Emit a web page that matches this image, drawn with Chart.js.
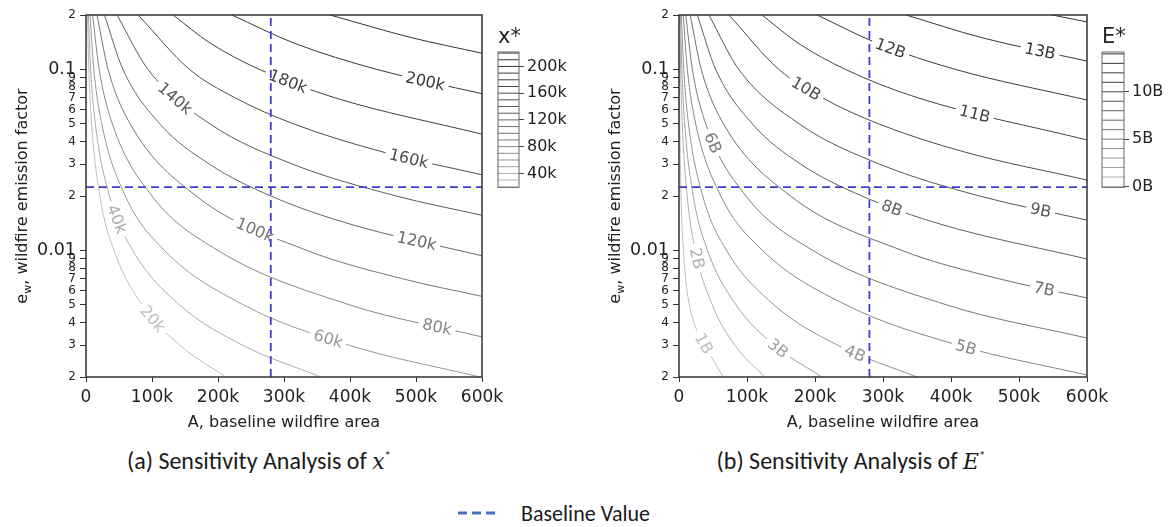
<!DOCTYPE html>
<html>
<head>
<meta charset="utf-8">
<title>Sensitivity analysis contours</title>
<script src="https://cdn.jsdelivr.net/npm/chart.js@4.4.1/dist/chart.umd.min.js"></script>
<style>
  html, body { margin: 0; padding: 0; background: #fff; }
  body { width: 1169px; height: 527px; position: relative; overflow: hidden; }
  canvas { position: absolute; }
  .caption { position: absolute; width: 460px; text-align: center; font-family: Carlito, Lato, "Liberation Sans Narrow", sans-serif; font-size: 24px; color: #1a1a1a; white-space: nowrap; }
  .caption i { font-family: "DejaVu Serif", "Liberation Serif", serif; font-size: 22px; }
  .caption sup { font-size: 13px; }
  #legend { position: absolute; left: 458px; top: 500px; height: 26px; display: flex; align-items: center; font-family: Carlito, Lato, "Liberation Sans Narrow", sans-serif; font-size: 22px; color: #1a1a1a; }
</style>
</head>
<body>
<canvas id="chartX" width="520" height="440" style="left:0;top:0"></canvas>
<canvas id="barX" width="100" height="200" style="left:488px;top:0"></canvas>
<canvas id="chartE" width="535" height="440" style="left:590px;top:0"></canvas>
<canvas id="barE" width="77" height="200" style="left:1092px;top:0"></canvas>
<div class="caption" style="left:29px;top:446px">(a) Sensitivity Analysis of <i>x</i><sup>*</sup></div>
<div class="caption" style="left:621px;top:446px">(b) Sensitivity Analysis of <i>E</i><sup>*</sup></div>
<div id="legend"><svg width="38" height="6"><line x1="0" y1="3" x2="38" y2="3" stroke="#4472c4" stroke-width="3" stroke-dasharray="9,5"/></svg><span style="margin-left:25px">Baseline Value</span></div>
<script>
// axis ticks
const xTickValues = [0, 100000, 200000, 300000, 400000, 500000, 600000];
const xTickLabels = ["0", "100k", "200k", "300k", "400k", "500k", "600k"];
const yTickValues = [0.002, 0.003, 0.004, 0.005, 0.006, 0.007, 0.008, 0.009, 0.01,
  0.02, 0.03, 0.04, 0.05, 0.06, 0.07, 0.08, 0.09, 0.1, 0.2];
const yTickLabels = ["2", "3", "4", "5", "6", "7", "8", "9", "0.01",
  "2", "3", "4", "5", "6", "7", "8", "9", "0.1", "2"];
const yMajorTicks = [0.01, 0.1];

// baseline values (blue dashed lines)
const baselineA = 280000;
const baselineEw = 0.0224;

// x* contour lines, points [A, e_w]
const xStarLevels = ["20k", "40k", "60k", "80k", "100k", "120k", "140k", "160k", "180k", "200k", "220k"];
const xStarContours = [
  [[2100, 0.2], [4300, 0.1], [8500, 0.05], [21000, 0.02], [42500, 0.01], [85000, 0.005], [142000, 0.003], [212000, 0.002]],
  [[3600, 0.2], [7100, 0.1], [14200, 0.05], [35600, 0.02], [71000, 0.01], [142000, 0.005], [237000, 0.003], [356000, 0.002]],
  [[6000, 0.2], [11900, 0.1], [23900, 0.05], [59600, 0.02], [119000, 0.01], [239000, 0.005], [398000, 0.003], [597000, 0.002]],
  [[10000, 0.2], [20000, 0.1], [40000, 0.05], [100000, 0.02], [200000, 0.01], [400000, 0.005], [600000, 0.00333]],
  [[16700, 0.2], [33500, 0.1], [67000, 0.05], [167000, 0.02], [335000, 0.01], [478000, 0.007], [600000, 0.00558]],
  [[28000, 0.2], [56000, 0.1], [112000, 0.05], [187000, 0.03], [280000, 0.02], [400000, 0.014], [600000, 0.00935]],
  [[47000, 0.2], [94000, 0.1], [188000, 0.05], [313000, 0.03], [470000, 0.02], [600000, 0.01565]],
  [[79000, 0.2], [157000, 0.1], [225000, 0.07], [315000, 0.05], [450000, 0.035], [600000, 0.0262]],
  [[132000, 0.2], [188000, 0.14], [263000, 0.1], [376000, 0.07], [600000, 0.0439]],
  [[221000, 0.2], [315000, 0.14], [441000, 0.1], [600000, 0.0735]],
  [[370000, 0.2], [493000, 0.15], [600000, 0.123]]
];
// A value where each inline label sits (null = unlabeled)
const xStarLabelAt = [101000, 47000, 367000, 532000, 256000, 501000, 135000, 489000, 306000, 514000, null];

// E* contour lines
const eStarLevels = ["1B", "2B", "3B", "4B", "5B", "6B", "7B", "8B", "9B", "10B", "11B", "12B", "13B", "14B"];
const eStarContours = [
  [[300, 0.2], [600, 0.1], [1200, 0.05], [3000, 0.02], [6500, 0.01], [11800, 0.006], [22000, 0.004], [38000, 0.003], [65000, 0.002]],
  [[1200, 0.2], [2400, 0.1], [4800, 0.05], [12000, 0.02], [24000, 0.01], [49000, 0.005], [82000, 0.003], [126000, 0.002]],
  [[2100, 0.2], [4200, 0.1], [8400, 0.05], [21000, 0.02], [42000, 0.01], [84000, 0.005], [140000, 0.003], [210000, 0.002]],
  [[3500, 0.2], [7000, 0.1], [14000, 0.05], [35000, 0.02], [70000, 0.01], [140000, 0.005], [233000, 0.003], [350000, 0.002]],
  [[6200, 0.2], [12300, 0.1], [24600, 0.05], [61500, 0.02], [123000, 0.01], [246000, 0.005], [410000, 0.003], [600000, 0.00205]],
  [[9900, 0.2], [19700, 0.1], [39400, 0.05], [98500, 0.02], [197000, 0.01], [394000, 0.005], [600000, 0.00328]],
  [[16400, 0.2], [32800, 0.1], [65600, 0.05], [164000, 0.02], [328000, 0.01], [469000, 0.007], [600000, 0.00547]],
  [[27000, 0.2], [54000, 0.1], [108000, 0.05], [179000, 0.03], [269000, 0.02], [384000, 0.014], [600000, 0.00897]],
  [[44000, 0.2], [88000, 0.1], [177000, 0.05], [295000, 0.03], [442000, 0.02], [600000, 0.01473]],
  [[73500, 0.2], [147000, 0.1], [210000, 0.07], [294000, 0.05], [420000, 0.035], [600000, 0.0245]],
  [[122000, 0.2], [175000, 0.14], [245000, 0.1], [350000, 0.07], [600000, 0.0408]],
  [[203000, 0.2], [291000, 0.14], [407000, 0.1], [600000, 0.0678]],
  [[334000, 0.2], [445000, 0.15], [600000, 0.1113]],
  [[549000, 0.2], [600000, 0.183]]
];
const eStarLabelAt = [36800, 26500, 145600, 259000, 422000, 50000, 537000, 313000, 532000, 187000, 435000, 311000, 531000, null];

// colorbars
const xStarBarLines = [20000, 30000, 40000, 50000, 60000, 70000, 80000, 90000, 100000, 110000, 120000,
  130000, 140000, 150000, 160000, 170000, 180000, 190000, 200000, 210000, 220000];
const xStarBarTicks = [40000, 80000, 120000, 160000, 200000];
const xStarBarLabels = ["40k", "80k", "120k", "160k", "200k"];
const eStarBarLines = [0, 1e9, 2e9, 3e9, 4e9, 5e9, 6e9, 7e9, 8e9, 9e9, 10e9, 11e9, 12e9, 13e9, 14e9];
const eStarBarTicks = [0, 5e9, 10e9];
const eStarBarLabels = ["0B", "5B", "10B"];

const FONT = "'DejaVu Sans', Verdana, sans-serif";
const INK = "#222";
const DASH_BLUE = "#3c3cd2";

// light grey for low levels, dark grey for high ones
function greyFor(i, n) {
  const t = n > 1 ? i / (n - 1) : 0;
  const g = Math.round(50 + 140 * Math.pow(1 - t, 1.4));
  return `rgb(${g},${g},${g})`;
}

// position + tangent on the drawn bezier line at pixel x
function locate(pts, px) {
  let k = 0;
  while (k < pts.length - 2 && pts[k + 1].x < px) k++;
  const p = pts[k], q = pts[k + 1];
  const c1x = p.cp2x ?? p.x, c1y = p.cp2y ?? p.y;
  const c2x = q.cp1x ?? q.x, c2y = q.cp1y ?? q.y;
  const bez = (t, a, b, c, d) => { const u = 1 - t; return u * u * u * a + 3 * u * u * t * b + 3 * u * t * t * c + t * t * t * d; };
  const der = (t, a, b, c, d) => { const u = 1 - t; return 3 * u * u * (b - a) + 6 * u * t * (c - b) + 3 * t * t * (d - c); };
  let lo = 0, hi = 1;
  for (let j = 0; j < 40; j++) {
    const m = (lo + hi) / 2;
    if (bez(m, p.x, c1x, c2x, q.x) < px) lo = m; else hi = m;
  }
  const t = (lo + hi) / 2;
  return {
    x: bez(t, p.x, c1x, c2x, q.x),
    y: bez(t, p.y, c1y, c2y, q.y),
    angle: Math.atan2(der(t, p.y, c1y, c2y, q.y), der(t, p.x, c1x, c2x, q.x))
  };
}

// inline contour labels: cut a gap in the line, then write the level
const contourLabels = {
  id: "contourLabels",
  beforeDatasetDraw(chart, args) {
    const ds = chart.data.datasets[args.index];
    if (!ds.labelText || ds.labelA == null) return;
    const meta = args.meta;
    if (meta.dataset.updateControlPoints) meta.dataset.updateControlPoints(chart.chartArea, "x");
    const pos = locate(meta.data, chart.scales.x.getPixelForValue(ds.labelA));
    const ctx = chart.ctx;
    ctx.save();
    ctx.font = `16px ${FONT}`;
    const w = ctx.measureText(ds.labelText).width + 8, h = 14;
    const cos = Math.cos(pos.angle), sin = Math.sin(pos.angle);
    const c = [[-w / 2, -h / 2], [w / 2, -h / 2], [w / 2, h / 2], [-w / 2, h / 2]]
      .map(([u, v]) => [pos.x + u * cos - v * sin, pos.y + u * sin + v * cos]);
    ctx.beginPath();
    ctx.rect(0, 0, chart.width, chart.height);
    ctx.moveTo(c[0][0], c[0][1]);
    for (let i = 1; i < 4; i++) ctx.lineTo(c[i][0], c[i][1]);
    ctx.closePath();
    ctx.clip("evenodd");
    chart.$labelPos = pos;
  },
  afterDatasetDraw(chart, args) {
    const ds = chart.data.datasets[args.index];
    if (!ds.labelText || ds.labelA == null) return;
    const ctx = chart.ctx;
    ctx.restore();
    const pos = chart.$labelPos;
    ctx.save();
    ctx.translate(pos.x, pos.y);
    ctx.rotate(pos.angle);
    ctx.font = `16px ${FONT}`;
    ctx.fillStyle = ds.borderColor;
    ctx.textAlign = "center";
    ctx.textBaseline = "middle";
    ctx.fillText(ds.labelText, 0, 1);
    ctx.restore();
  }
};

// box around the plot and axis titles
function framePlugin(xTitle) {
  return {
    id: "frame",
    afterDraw(chart) {
      const a = chart.chartArea, ctx = chart.ctx;
      ctx.save();
      ctx.strokeStyle = "#333";
      ctx.lineWidth = 1.5;
      ctx.strokeRect(a.left, a.top, a.right - a.left, a.bottom - a.top);
      ctx.fillStyle = INK;
      ctx.font = `16px ${FONT}`;
      ctx.textAlign = "center";
      ctx.textBaseline = "middle";
      ctx.fillText(xTitle, (a.left + a.right) / 2, a.bottom + 46);
      // e_w, wildfire emission factor (rotated, with subscript)
      ctx.translate(a.left - 63, (a.top + a.bottom) / 2);
      ctx.rotate(-Math.PI / 2);
      ctx.textAlign = "left";
      const rest = ", wildfire emission factor";
      ctx.font = `16px ${FONT}`;
      const we = ctx.measureText("e").width, wr = ctx.measureText(rest).width;
      ctx.font = `11px ${FONT}`;
      const ww = ctx.measureText("w").width;
      const x0 = -(we + ww + wr) / 2;
      ctx.font = `16px ${FONT}`;
      ctx.fillText("e", x0, 0);
      ctx.font = `11px ${FONT}`;
      ctx.fillText("w", x0 + we, 5);
      ctx.font = `16px ${FONT}`;
      ctx.fillText(rest, x0 + we + ww, 0);
      ctx.restore();
    }
  };
}

function contourChart(id, contours, levels, labelAt, axisWidth) {
  const n = contours.length;
  const datasets = [
    { data: [{ x: baselineA, y: 0.002 }, { x: baselineA, y: 0.2 }], showLine: true, borderColor: DASH_BLUE,
      borderWidth: 1.8, borderDash: [8, 5], pointRadius: 0 },
    { data: [{ x: 0, y: baselineEw }, { x: 600000, y: baselineEw }], showLine: true, borderColor: DASH_BLUE,
      borderWidth: 1.8, borderDash: [8, 5], pointRadius: 0 }
  ];
  contours.forEach((pts, i) => {
    datasets.push({
      data: pts.map(([a, e]) => ({ x: a, y: e })),
      showLine: true,
      borderColor: greyFor(i, n),
      borderWidth: 1,
      pointRadius: 0,
      cubicInterpolationMode: "monotone",
      labelText: levels[i],
      labelA: labelAt[i]
    });
  });
  return new Chart(document.getElementById(id), {
    type: "scatter",
    data: { datasets },
    options: {
      responsive: false,
      animation: false,
      layout: { padding: { left: 0, right: 38, top: 15, bottom: 0 } },
      plugins: { legend: { display: false }, tooltip: { enabled: false } },
      scales: {
        x: {
          type: "linear", min: 0, max: 600000,
          afterBuildTicks: s => { s.ticks = xTickValues.map(v => ({ value: v })); },
          afterFit: s => { s.height = 63; },
          ticks: { callback: (v, i) => xTickLabels[i], autoSkip: false, maxRotation: 0,
            font: { family: FONT, size: 17 }, color: INK, padding: 5 },
          grid: { drawOnChartArea: false, tickLength: 5, color: "#333" },
          border: { display: false }
        },
        y: {
          type: "logarithmic", min: 0.002, max: 0.2,
          afterBuildTicks: s => { s.ticks = yTickValues.map(v => ({ value: v })); },
          afterFit: s => { s.width = axisWidth; },
          ticks: {
            callback: (v, i) => yTickLabels[i], autoSkip: false,
            font: c => ({ family: FONT, size: c.tick && yMajorTicks.includes(c.tick.value) ? 17.5 : 12 }),
            color: INK, padding: 4
          },
          grid: { drawOnChartArea: false, tickLength: 6, color: "#333" },
          border: { display: false }
        }
      }
    },
    plugins: [contourLabels, framePlugin("A, baseline wildfire area")]
  });
}

function colorbar(id, lines, min, max, ticks, labels, title, axisWidth, pad) {
  const n = lines.length;
  return new Chart(document.getElementById(id), {
    type: "scatter",
    data: {
      datasets: lines.map((v, i) => ({
        data: [{ x: 0, y: v }, { x: 1, y: v }], showLine: true,
        borderColor: greyFor(i, n), borderWidth: 1, pointRadius: 0
      }))
    },
    options: {
      responsive: false,
      animation: false,
      layout: { padding: pad },
      plugins: { legend: { display: false }, tooltip: { enabled: false } },
      scales: {
        x: { type: "linear", min: 0, max: 1, display: false },
        y: {
          type: "linear", position: "right", min, max,
          afterBuildTicks: s => { s.ticks = ticks.map(v => ({ value: v })); },
          afterFit: s => { s.width = axisWidth; },
          ticks: { callback: (v, i) => labels[i], font: { family: FONT, size: 16 }, color: INK, padding: 3 },
          grid: { drawOnChartArea: false, tickLength: 5, color: "#444" },
          border: { display: false }
        }
      }
    },
    plugins: [{
      id: "barBox",
      afterDraw(chart) {
        const a = chart.chartArea, ctx = chart.ctx;
        ctx.save();
        ctx.strokeStyle = "#666";
        ctx.lineWidth = 1;
        ctx.strokeRect(a.left, a.top, a.right - a.left, a.bottom - a.top);
        ctx.fillStyle = INK;
        ctx.font = `21px ${FONT}`;
        ctx.textBaseline = "alphabetic";
        ctx.fillText(title, a.left, a.top - 9);
        ctx.restore();
      }
    }]
  });
}

contourChart("chartX", xStarContours, xStarLevels, xStarLabelAt, 86);
contourChart("chartE", eStarContours, eStarLevels, eStarLabelAt, 89);
colorbar("barX", xStarBarLines, 19000, 221600, xStarBarTicks, xStarBarLabels, "x*", 69,
  { left: 10, right: 0, top: 52, bottom: 11 });
colorbar("barE", eStarBarLines, -0.1e9, 14.2e9, eStarBarTicks, eStarBarLabels, "E*", 45,
  { left: 10, right: 0, top: 52, bottom: 9 });
</script>
</body>
</html>
